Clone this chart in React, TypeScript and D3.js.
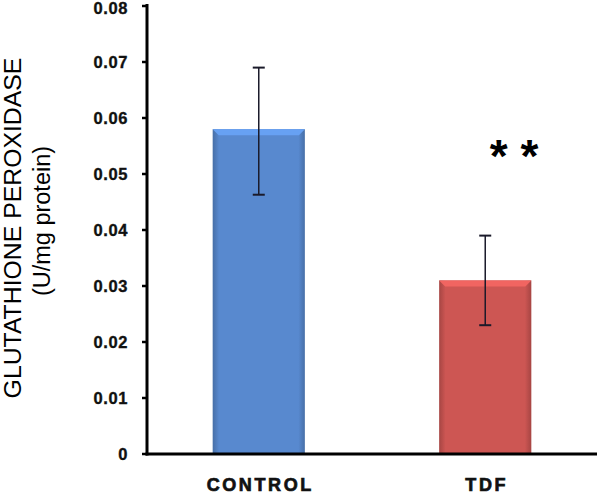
import React from "react";
import * as d3 from "d3";

const categories = ["CONTROL", "TDF"];
const values = [0.058, 0.031];
const errLow = [0.0463, 0.023];
const errHigh = [0.069, 0.039];
const barColors = ["#5889cf", "#cd5653"];
const yTicks = [0, 0.01, 0.02, 0.03, 0.04, 0.05, 0.06, 0.07, 0.08];
const yTickLabels = ["0", "0.01", "0.02", "0.03", "0.04", "0.05", "0.06", "0.07", "0.08"];

export default function App() {
  const W = 600, H = 494;
  const x0 = 147, x1 = 597;
  const y = d3.scaleLinear().domain([0, 0.08]).range([454, 6]);
  const x = d3.scaleBand().domain(categories).range([x0, x1]).paddingInner(0.593).paddingOuter(0.29);
  const bw = x.bandwidth();
  const font = "Liberation Sans, Arial, sans-serif";
  return (
    <svg width={W} height={H} style={{ position: "absolute", left: 0, top: 0, background: "#fff" }}>
      <defs>
        {barColors.map((c, i) => (
          <linearGradient key={i} id={`g${i}`} x1="0" x2="1" y1="0" y2="0">
            <stop offset="0" stopColor={d3.color(c)!.darker(0.6).toString()} />
            <stop offset="0.07" stopColor={c} />
            <stop offset="0.93" stopColor={c} />
            <stop offset="1" stopColor={d3.color(c)!.darker(0.6).toString()} />
          </linearGradient>
        ))}
      </defs>
      <text transform="translate(21,228) rotate(-90)" textAnchor="middle" fontFamily={font} fontSize={24.8} fill="#000">GLUTATHIONE PEROXIDASE</text>
      <text transform="translate(50,221) rotate(-90)" textAnchor="middle" fontFamily={font} fontSize={23.5} fill="#000">(U/mg protein)</text>
      {yTicks.map((t, i) => (
        <g key={i}>
          <line x1={x0 - 5} x2={x0} y1={y(t)} y2={y(t)} stroke="#000" strokeWidth={2.5} />
          <text x={128} y={Math.max(y(t), 8)} dy="0.36em" textAnchor="end" fontFamily={font} fontWeight="bold" fontSize={16.5} letterSpacing={0.6} fill="#111" stroke="#111" strokeWidth={0.35}>{yTickLabels[i]}</text>
        </g>
      ))}
      {categories.map((c, i) => {
        const bx = x(c)!;
        const top = y(values[i]);
        const bot = y(0);
        const cx = bx + bw / 2;
        const light = d3.color(barColors[i])!.brighter(0.45).toString();
        return (
          <g key={c}>
            <rect x={bx} y={top} width={bw} height={bot - top} fill={`url(#g${i})`} />
            <polygon points={`${bx},${top} ${bx + bw},${top} ${bx + bw - 6},${top + 6} ${bx + 6},${top + 6}`} fill={light} />
            <line x1={cx} x2={cx} y1={y(errHigh[i])} y2={y(errLow[i])} stroke="#1a1a2a" strokeWidth={1.5} />
            <line x1={cx - 6} x2={cx + 6} y1={y(errHigh[i])} y2={y(errHigh[i])} stroke="#1a1a2a" strokeWidth={2} />
            <line x1={cx - 6} x2={cx + 6} y1={y(errLow[i])} y2={y(errLow[i])} stroke="#1a1a2a" strokeWidth={2} />
            <text x={cx + 1.5} y={491} textAnchor="middle" fontFamily={font} fontWeight="bold" fontSize={18} letterSpacing={2.6} fill="#111" stroke="#111" strokeWidth={0.7}>{c}</text>
          </g>
        );
      })}
      <text x={514} y={172} textAnchor="middle" fontFamily={font} fontWeight="bold" fontSize={46} fill="#000">* *</text>
      <line x1={x0} x2={x0} y1={y(0.08) - 2} y2={y(0) + 1.5} stroke="#000" strokeWidth={3} />
      <line x1={x0 - 1.5} x2={x1} y1={y(0)} y2={y(0)} stroke="#000" strokeWidth={3} />
    </svg>
  );
}
